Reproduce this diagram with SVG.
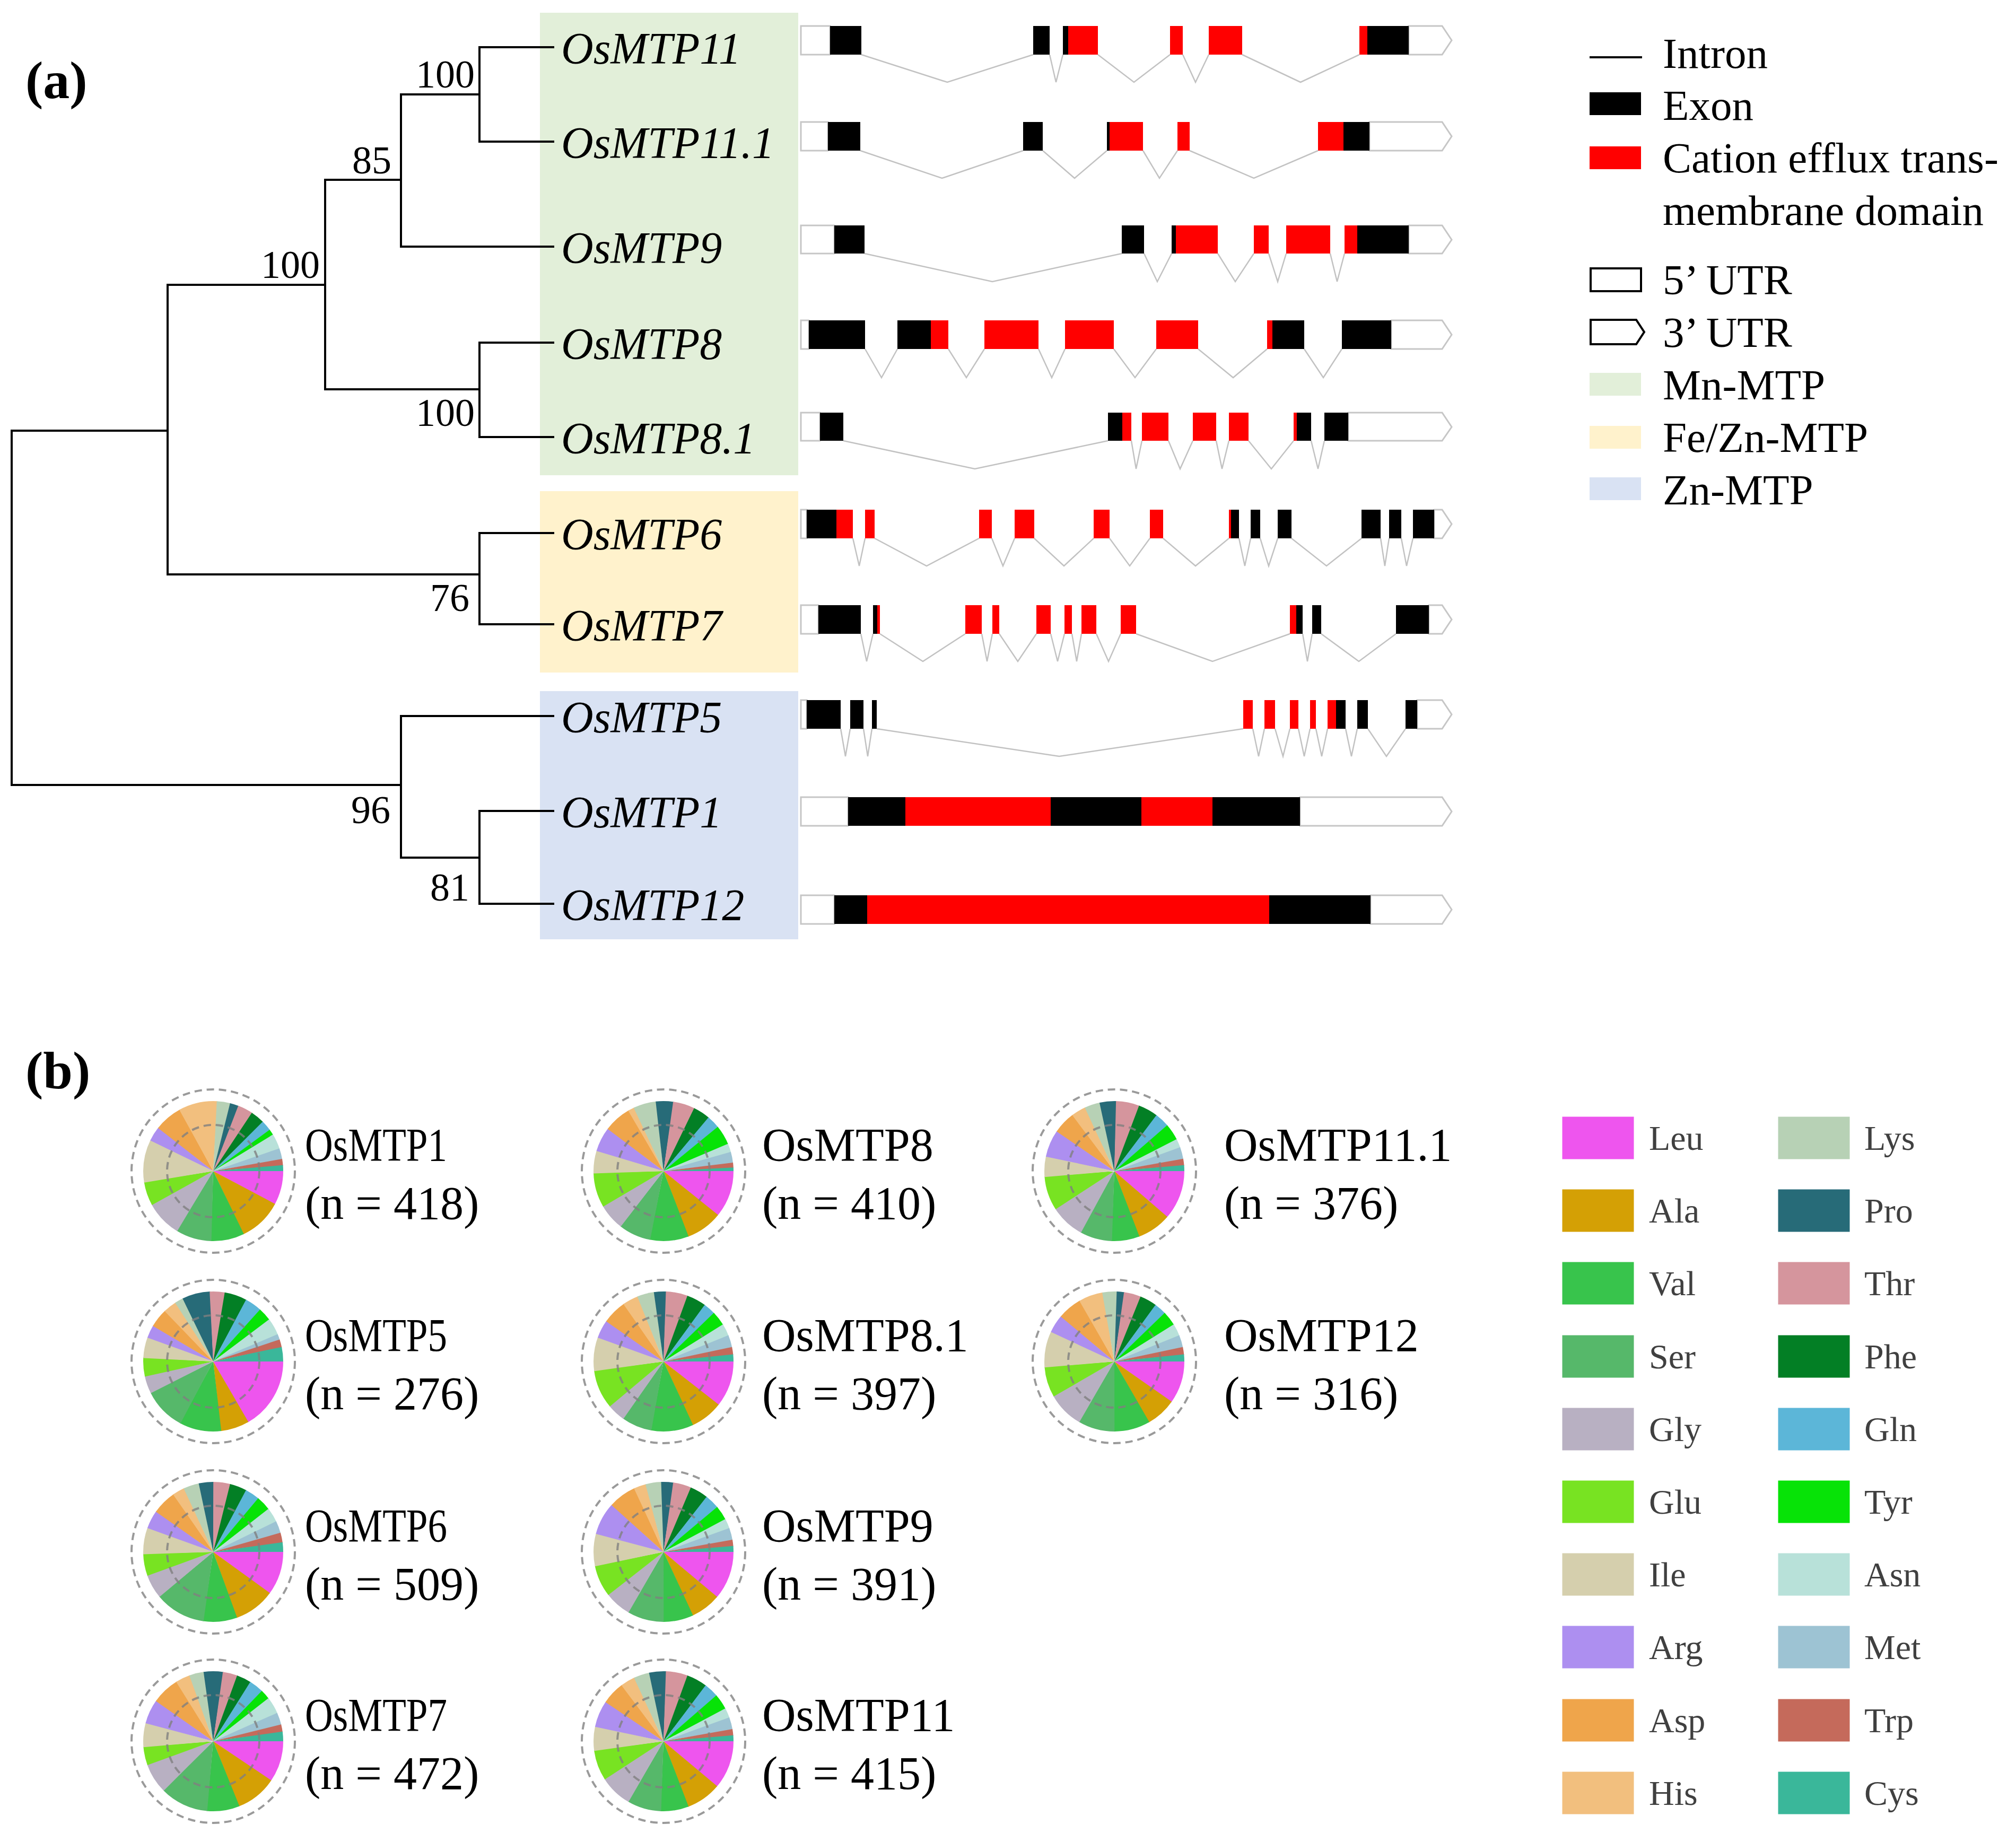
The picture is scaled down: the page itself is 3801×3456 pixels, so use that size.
<svg xmlns="http://www.w3.org/2000/svg" width="3801" height="3456" viewBox="0 0 3801 3456">
<style>
text{font-family:"Liberation Serif","Times New Roman",serif;fill:#000}
.br{stroke:#000;stroke-width:4;fill:none;stroke-linecap:square}
.leaf{font-style:italic;font-size:84px}
.bs{font-size:74px;text-anchor:end}
.lab{font-size:100px;font-weight:bold}
.utr{fill:#fff;stroke:#c6c6c6;stroke-width:3}
.ex{fill:#000}.cd{fill:#f00}
.in{fill:none;stroke:#c2c2c2;stroke-width:2.5}
.lg{font-size:81px}
.pl{font-size:88px}
.aa{font-size:66px;fill:#404040}
.s{fill:none;stroke-width:132}
.od{fill:none;stroke:#9a9a9a;stroke-width:4;stroke-dasharray:14 9}
.id{fill:none;stroke:#808080;stroke-opacity:0.8;stroke-width:4;stroke-dasharray:14 9}
.c1{stroke:#ee55ee;fill:#ee55ee}.c2{stroke:#d4a005;fill:#d4a005}.c3{stroke:#38c44c;fill:#38c44c}.c4{stroke:#56b86a;fill:#56b86a}
.c5{stroke:#b8b0c2;fill:#b8b0c2}.c6{stroke:#78e322;fill:#78e322}.c7{stroke:#d5cfad;fill:#d5cfad}.c8{stroke:#ad8ff0;fill:#ad8ff0}
.c9{stroke:#efa54b;fill:#efa54b}.c10{stroke:#f2bf7e;fill:#f2bf7e}.c11{stroke:#b7d1b5;fill:#b7d1b5}.c12{stroke:#276b78;fill:#276b78}
.c13{stroke:#d5959d;fill:#d5959d}.c14{stroke:#037f25;fill:#037f25}.c15{stroke:#5cb6d8;fill:#5cb6d8}.c16{stroke:#07e307;fill:#07e307}
.c17{stroke:#b8e1d9;fill:#b8e1d9}.c18{stroke:#9dc3d3;fill:#9dc3d3}.c19{stroke:#c56a5b;fill:#c56a5b}.c20{stroke:#3ab79a;fill:#3ab79a}
circle.s{fill:none}
</style>
<rect width="3801" height="3456" fill="#fff"/>
<text class="lab" x="48" y="185">(a)</text>
<text class="lab" x="48" y="2052">(b)</text>

<!-- group backgrounds -->
<g id="groups">
<rect x="1018" y="24" width="487" height="872" fill="#e2efd9"/>
<rect x="1018" y="926" width="487" height="342" fill="#fff2cc"/>
<rect x="1018" y="1303" width="487" height="468" fill="#d9e2f3"/>
</g>

<!-- tree connectors -->
<g id="tree" class="br">
<path d="M22,812V1480M22,812H316M22,1480H756"/>
<path d="M316,537V1083M316,537H613M316,1083H904"/>
<path d="M613,339V734M613,339H756M613,734H904"/>
<path d="M756,178V465M756,178H904M756,465H1043"/>
<path d="M904,89V267M904,89H1043M904,267H1043"/>
<path d="M904,646V824M904,646H1043M904,824H1043"/>
<path d="M904,1005V1177M904,1005H1043M904,1177H1043"/>
<path d="M756,1350V1617M756,1350H1043M756,1617H904"/>
<path d="M904,1529V1704M904,1529H1043M904,1704H1043"/>
</g>
<g id="bootstrap">
<text class="bs" x="895" y="165">100</text>
<text class="bs" x="738" y="327">85</text>
<text class="bs" x="603" y="524">100</text>
<text class="bs" x="895" y="803">100</text>
<text class="bs" x="885" y="1152">76</text>
<text class="bs" x="736" y="1552">96</text>
<text class="bs" x="885" y="1698">81</text>
</g>
<g id="leaves">
<text class="leaf" x="1058" y="120">OsMTP11</text>
<text class="leaf" x="1058" y="298">OsMTP11.1</text>
<text class="leaf" x="1058" y="496">OsMTP9</text>
<text class="leaf" x="1058" y="677">OsMTP8</text>
<text class="leaf" x="1058" y="855">OsMTP8.1</text>
<text class="leaf" x="1058" y="1036">OsMTP6</text>
<text class="leaf" x="1058" y="1208">OsMTP7</text>
<text class="leaf" x="1058" y="1381">OsMTP5</text>
<text class="leaf" x="1058" y="1560">OsMTP1</text>
<text class="leaf" x="1058" y="1735">OsMTP12</text>
</g>

<!-- gene structures -->
<g id="gene-OsMTP11">
<rect class="utr" x="1510" y="49" width="55" height="54"/>
<polygon class="utr" points="2656,49 2719,49 2737,76 2719,103 2656,103"/>
<path class="in" d="M1624,103L1786,155L1948,103M1979,103L1991,155L2004,103M2070,103L2138,155L2206,103M2230,103L2254,155L2279,103M2342,103L2452,155L2563,103"/>
<rect class="ex" x="1565" y="49" width="59" height="54"/><rect class="ex" x="1948" y="49" width="31" height="54"/><rect class="ex" x="2004" y="49" width="10" height="54"/><rect class="cd" x="2014" y="49" width="56" height="54"/><rect class="cd" x="2206" y="49" width="24" height="54"/><rect class="cd" x="2279" y="49" width="63" height="54"/><rect class="cd" x="2563" y="49" width="15" height="54"/><rect class="ex" x="2578" y="49" width="78" height="54"/>
</g>
<g id="gene-OsMTP11.1">
<rect class="utr" x="1510" y="230" width="51" height="54"/>
<polygon class="utr" points="2582,230 2719,230 2737,257 2719,284 2582,284"/>
<path class="in" d="M1622,284L1776,336L1929,284M1966,284L2026,336L2087,284M2155,284L2186,336L2220,284M2243,284L2364,336L2485,284"/>
<rect class="ex" x="1561" y="230" width="61" height="54"/><rect class="ex" x="1929" y="230" width="37" height="54"/><rect class="ex" x="2087" y="230" width="5" height="54"/><rect class="cd" x="2092" y="230" width="63" height="54"/><rect class="cd" x="2220" y="230" width="23" height="54"/><rect class="cd" x="2485" y="230" width="48" height="54"/><rect class="ex" x="2533" y="230" width="49" height="54"/>
</g>
<g id="gene-OsMTP9">
<rect class="utr" x="1510" y="425" width="63" height="53"/>
<polygon class="utr" points="2656,425 2719,425 2737,452 2719,478 2656,478"/>
<path class="in" d="M1630,478L1871,531L2115,478M2157,478L2182,531L2209,478M2296,478L2329,531L2364,478M2392,478L2409,531L2425,478M2508,478L2521,531L2535,478"/>
<rect class="ex" x="1573" y="425" width="57" height="53"/><rect class="ex" x="2115" y="425" width="42" height="53"/><rect class="ex" x="2209" y="425" width="8" height="53"/><rect class="cd" x="2217" y="425" width="79" height="53"/><rect class="cd" x="2364" y="425" width="28" height="53"/><rect class="cd" x="2425" y="425" width="83" height="53"/><rect class="cd" x="2535" y="425" width="24" height="53"/><rect class="ex" x="2559" y="425" width="97" height="53"/>
</g>
<g id="gene-OsMTP8">
<rect class="utr" x="1510" y="604" width="15" height="54"/>
<polygon class="utr" points="2623,604 2719,604 2737,631 2719,658 2623,658"/>
<path class="in" d="M1631,658L1662,712L1692,658M1788,658L1822,712L1856,658M1958,658L1983,712L2008,658M2100,658L2140,712L2180,658M2259,658L2325,712L2389,658M2459,658L2495,712L2530,658"/>
<rect class="ex" x="1525" y="604" width="106" height="54"/><rect class="ex" x="1692" y="604" width="63" height="54"/><rect class="cd" x="1755" y="604" width="33" height="54"/><rect class="cd" x="1856" y="604" width="102" height="54"/><rect class="cd" x="2008" y="604" width="92" height="54"/><rect class="cd" x="2180" y="604" width="79" height="54"/><rect class="cd" x="2389" y="604" width="10" height="54"/><rect class="ex" x="2399" y="604" width="60" height="54"/><rect class="ex" x="2530" y="604" width="93" height="54"/>
</g>
<g id="gene-OsMTP8.1">
<rect class="utr" x="1510" y="778" width="36" height="53"/>
<polygon class="utr" points="2542,778 2719,778 2737,805 2719,831 2542,831"/>
<path class="in" d="M1590,831L1838,884L2089,831M2133,831L2142,884L2153,831M2203,831L2225,884L2249,831M2293,831L2304,884L2317,831M2354,831L2397,884L2439,831M2472,831L2485,884L2497,831"/>
<rect class="ex" x="1546" y="778" width="44" height="53"/><rect class="ex" x="2089" y="778" width="27" height="53"/><rect class="cd" x="2116" y="778" width="17" height="53"/><rect class="cd" x="2153" y="778" width="50" height="53"/><rect class="cd" x="2249" y="778" width="44" height="53"/><rect class="cd" x="2317" y="778" width="37" height="53"/><rect class="cd" x="2439" y="778" width="6" height="53"/><rect class="ex" x="2445" y="778" width="27" height="53"/><rect class="ex" x="2497" y="778" width="45" height="53"/>
</g>
<g id="gene-OsMTP6">
<rect class="utr" x="1510" y="961" width="11" height="54"/>
<polygon class="utr" points="2704,961 2719,961 2737,988 2719,1015 2704,1015"/>
<path class="in" d="M1608,1015L1620,1067L1631,1015M1649,1015L1747,1067L1846,1015M1870,1015L1891,1067L1913,1015M1950,1015L2006,1067L2062,1015M2092,1015L2130,1067L2168,1015M2193,1015L2254,1067L2317,1015M2336,1015L2347,1067L2358,1015M2376,1015L2392,1067L2409,1015M2435,1015L2501,1067L2567,1015M2603,1015L2611,1067L2619,1015M2642,1015L2652,1067L2664,1015"/>
<rect class="ex" x="1521" y="961" width="56" height="54"/><rect class="cd" x="1577" y="961" width="31" height="54"/><rect class="cd" x="1631" y="961" width="18" height="54"/><rect class="cd" x="1846" y="961" width="24" height="54"/><rect class="cd" x="1913" y="961" width="37" height="54"/><rect class="cd" x="2062" y="961" width="30" height="54"/><rect class="cd" x="2168" y="961" width="25" height="54"/><rect class="cd" x="2317" y="961" width="4" height="54"/><rect class="ex" x="2321" y="961" width="15" height="54"/><rect class="ex" x="2358" y="961" width="18" height="54"/><rect class="ex" x="2409" y="961" width="26" height="54"/><rect class="ex" x="2567" y="961" width="36" height="54"/><rect class="ex" x="2619" y="961" width="23" height="54"/><rect class="ex" x="2664" y="961" width="40" height="54"/>
</g>
<g id="gene-OsMTP7">
<rect class="utr" x="1510" y="1141" width="33" height="54"/>
<polygon class="utr" points="2694,1141 2719,1141 2737,1168 2719,1195 2694,1195"/>
<path class="in" d="M1623,1195L1634,1247L1646,1195M1659,1195L1740,1247L1820,1195M1851,1195L1861,1247L1871,1195M1884,1195L1919,1247L1954,1195M1981,1195L1994,1247L2007,1195M2021,1195L2030,1247L2039,1195M2067,1195L2090,1247L2113,1195M2142,1195L2286,1247L2432,1195M2456,1195L2465,1247L2474,1195M2491,1195L2562,1247L2632,1195"/>
<rect class="ex" x="1543" y="1141" width="80" height="54"/><rect class="ex" x="1646" y="1141" width="8" height="54"/><rect class="cd" x="1654" y="1141" width="5" height="54"/><rect class="cd" x="1820" y="1141" width="31" height="54"/><rect class="cd" x="1871" y="1141" width="13" height="54"/><rect class="cd" x="1954" y="1141" width="27" height="54"/><rect class="cd" x="2007" y="1141" width="14" height="54"/><rect class="cd" x="2039" y="1141" width="28" height="54"/><rect class="cd" x="2113" y="1141" width="29" height="54"/><rect class="cd" x="2432" y="1141" width="12" height="54"/><rect class="ex" x="2444" y="1141" width="12" height="54"/><rect class="ex" x="2474" y="1141" width="17" height="54"/><rect class="ex" x="2632" y="1141" width="62" height="54"/>
</g>
<g id="gene-OsMTP5">
<rect class="utr" x="1510" y="1320" width="11" height="54"/>
<polygon class="utr" points="2672,1320 2719,1320 2737,1347 2719,1374 2672,1374"/>
<path class="in" d="M1585,1374L1594,1426L1603,1374M1628,1374L1636,1426L1644,1374M1653,1374L1997,1426L2344,1374M2362,1374L2373,1426L2384,1374M2404,1374L2419,1426L2432,1374M2448,1374L2459,1426L2470,1374M2481,1374L2492,1426L2503,1374M2537,1374L2548,1426L2559,1374M2579,1374L2614,1426L2650,1374"/>
<rect class="ex" x="1521" y="1320" width="64" height="54"/><rect class="ex" x="1603" y="1320" width="25" height="54"/><rect class="ex" x="1644" y="1320" width="9" height="54"/><rect class="cd" x="2344" y="1320" width="18" height="54"/><rect class="cd" x="2384" y="1320" width="20" height="54"/><rect class="cd" x="2432" y="1320" width="16" height="54"/><rect class="cd" x="2470" y="1320" width="11" height="54"/><rect class="cd" x="2503" y="1320" width="16" height="54"/><rect class="ex" x="2519" y="1320" width="18" height="54"/><rect class="ex" x="2559" y="1320" width="20" height="54"/><rect class="ex" x="2650" y="1320" width="22" height="54"/>
</g>
<g id="gene-OsMTP1">
<rect class="utr" x="1510" y="1503" width="89" height="54"/>
<polygon class="utr" points="2451,1503 2719,1503 2737,1530 2719,1557 2451,1557"/>
<rect class="ex" x="1599" y="1503" width="108" height="54"/><rect class="cd" x="1707" y="1503" width="274" height="54"/><rect class="ex" x="1981" y="1503" width="171" height="54"/><rect class="cd" x="2152" y="1503" width="134" height="54"/><rect class="ex" x="2286" y="1503" width="165" height="54"/>
</g>
<g id="gene-OsMTP12">
<rect class="utr" x="1510" y="1688" width="63" height="54"/>
<polygon class="utr" points="2584,1688 2719,1688 2737,1715 2719,1742 2584,1742"/>
<rect class="ex" x="1573" y="1688" width="62" height="54"/><rect class="cd" x="1635" y="1688" width="758" height="54"/><rect class="ex" x="2393" y="1688" width="191" height="54"/>
</g>

<!-- legend a -->
<g id="legend-a">
<line x1="2997" y1="108" x2="3096" y2="108" stroke="#000" stroke-width="4"/>
<rect x="2997" y="174" width="97" height="43" fill="#000"/>
<rect x="2997" y="276" width="97" height="43" fill="#f00"/>
<rect x="2999" y="506" width="95" height="43" fill="#fff" stroke="#000" stroke-width="4"/>
<path d="M2999,603H3085L3100,626L3085,649H2999Z" fill="#fff" stroke="#000" stroke-width="4"/>
<rect x="2997" y="703" width="97" height="43" fill="#e2efd9"/>
<rect x="2997" y="803" width="97" height="43" fill="#fff2cc"/>
<rect x="2997" y="900" width="97" height="43" fill="#d9e2f3"/>
<text class="lg" x="3135" y="128">Intron</text>
<text class="lg" x="3135" y="226">Exon</text>
<text class="lg" x="3135" y="325">Cation efflux trans-</text>
<text class="lg" x="3135" y="424">membrane domain</text>
<text class="lg" x="3135" y="555">5’ UTR</text>
<text class="lg" x="3135" y="654">3’ UTR</text>
<text class="lg" x="3135" y="753">Mn-MTP</text>
<text class="lg" x="3135" y="852">Fe/Zn-MTP</text>
<text class="lg" x="3135" y="951">Zn-MTP</text>
</g>

<!-- pies -->
<g id="pie-OsMTP1" transform="translate(402,2208)">
<circle class="s c1" r="66" pathLength="360" stroke-dasharray="28.5 400" stroke-dashoffset="0"/>
<circle class="s c2" r="66" pathLength="360" stroke-dasharray="36.5 400" stroke-dashoffset="-28"/>
<circle class="s c3" r="66" pathLength="360" stroke-dasharray="28 400" stroke-dashoffset="-64"/>
<circle class="s c4" r="66" pathLength="360" stroke-dasharray="30 400" stroke-dashoffset="-91.5"/>
<circle class="s c5" r="66" pathLength="360" stroke-dasharray="30.5 400" stroke-dashoffset="-121"/>
<circle class="s c6" r="66" pathLength="360" stroke-dasharray="20 400" stroke-dashoffset="-151"/>
<circle class="s c7" r="66" pathLength="360" stroke-dasharray="36 400" stroke-dashoffset="-170.5"/>
<circle class="s c8" r="66" pathLength="360" stroke-dasharray="12.5 400" stroke-dashoffset="-206"/>
<circle class="s c9" r="66" pathLength="360" stroke-dasharray="23.5 400" stroke-dashoffset="-218"/>
<circle class="s c10" r="66" pathLength="360" stroke-dasharray="32.5 400" stroke-dashoffset="-241"/>
<circle class="s c11" r="66" pathLength="360" stroke-dasharray="11.5 400" stroke-dashoffset="-273"/>
<circle class="s c12" r="66" pathLength="360" stroke-dasharray="7.5 400" stroke-dashoffset="-284"/>
<circle class="s c13" r="66" pathLength="360" stroke-dasharray="13 400" stroke-dashoffset="-291"/>
<circle class="s c14" r="66" pathLength="360" stroke-dasharray="12 400" stroke-dashoffset="-303.5"/>
<circle class="s c15" r="66" pathLength="360" stroke-dasharray="9.2 400" stroke-dashoffset="-315"/>
<circle class="s c16" r="66" pathLength="360" stroke-dasharray="5.3 400" stroke-dashoffset="-323.7"/>
<circle class="s c17" r="66" pathLength="360" stroke-dasharray="13 400" stroke-dashoffset="-328.5"/>
<circle class="s c18" r="66" pathLength="360" stroke-dasharray="9.5 400" stroke-dashoffset="-341"/>
<circle class="s c19" r="66" pathLength="360" stroke-dasharray="5.5 400" stroke-dashoffset="-350"/>
<circle class="s c20" r="66" pathLength="360" stroke-dasharray="5 400" stroke-dashoffset="-355"/>
<circle class="id" r="87"/><circle class="od" r="154"/>
<text class="pl" x="173" y="-20" textLength="268" lengthAdjust="spacingAndGlyphs">OsMTP1</text><text class="pl" x="173" y="90">(n = 418)</text>
</g>
<g id="pie-OsMTP5" transform="translate(402,2567)">
<circle class="s c1" r="66" pathLength="360" stroke-dasharray="60.3 400" stroke-dashoffset="0"/>
<circle class="s c2" r="66" pathLength="360" stroke-dasharray="24 400" stroke-dashoffset="-59.8"/>
<circle class="s c3" r="66" pathLength="360" stroke-dasharray="35.1 400" stroke-dashoffset="-83.3"/>
<circle class="s c4" r="66" pathLength="360" stroke-dasharray="35.6 400" stroke-dashoffset="-117.9"/>
<circle class="s c5" r="66" pathLength="360" stroke-dasharray="15 400" stroke-dashoffset="-153"/>
<circle class="s c6" r="66" pathLength="360" stroke-dasharray="15.9 400" stroke-dashoffset="-167.5"/>
<circle class="s c7" r="66" pathLength="360" stroke-dasharray="17.6 400" stroke-dashoffset="-182.9"/>
<circle class="s c8" r="66" pathLength="360" stroke-dasharray="11 400" stroke-dashoffset="-200"/>
<circle class="s c9" r="66" pathLength="360" stroke-dasharray="16 400" stroke-dashoffset="-210.5"/>
<circle class="s c10" r="66" pathLength="360" stroke-dasharray="11.5 400" stroke-dashoffset="-226"/>
<circle class="s c11" r="66" pathLength="360" stroke-dasharray="7.5 400" stroke-dashoffset="-237"/>
<circle class="s c12" r="66" pathLength="360" stroke-dasharray="23.5 400" stroke-dashoffset="-244"/>
<circle class="s c13" r="66" pathLength="360" stroke-dasharray="13 400" stroke-dashoffset="-267"/>
<circle class="s c14" r="66" pathLength="360" stroke-dasharray="19 400" stroke-dashoffset="-279.5"/>
<circle class="s c15" r="66" pathLength="360" stroke-dasharray="14.5 400" stroke-dashoffset="-298"/>
<circle class="s c16" r="66" pathLength="360" stroke-dasharray="11.5 400" stroke-dashoffset="-312"/>
<circle class="s c17" r="66" pathLength="360" stroke-dasharray="14.5 400" stroke-dashoffset="-323"/>
<circle class="s c18" r="66" pathLength="360" stroke-dasharray="5.1 400" stroke-dashoffset="-337"/>
<circle class="s c19" r="66" pathLength="360" stroke-dasharray="6.9 400" stroke-dashoffset="-341.6"/>
<circle class="s c20" r="66" pathLength="360" stroke-dasharray="12 400" stroke-dashoffset="-348"/>
<circle class="id" r="87"/><circle class="od" r="154"/>
<text class="pl" x="173" y="-20" textLength="268" lengthAdjust="spacingAndGlyphs">OsMTP5</text><text class="pl" x="173" y="90">(n = 276)</text>
</g>
<g id="pie-OsMTP6" transform="translate(402,2926)">
<circle class="s c1" r="66" pathLength="360" stroke-dasharray="36.5 400" stroke-dashoffset="0"/>
<circle class="s c2" r="66" pathLength="360" stroke-dasharray="34.5 400" stroke-dashoffset="-36"/>
<circle class="s c3" r="66" pathLength="360" stroke-dasharray="28.5 400" stroke-dashoffset="-70"/>
<circle class="s c4" r="66" pathLength="360" stroke-dasharray="42.5 400" stroke-dashoffset="-98"/>
<circle class="s c5" r="66" pathLength="360" stroke-dasharray="20.5 400" stroke-dashoffset="-140"/>
<circle class="s c6" r="66" pathLength="360" stroke-dasharray="18.5 400" stroke-dashoffset="-160"/>
<circle class="s c7" r="66" pathLength="360" stroke-dasharray="22.5 400" stroke-dashoffset="-178"/>
<circle class="s c8" r="66" pathLength="360" stroke-dasharray="15.5 400" stroke-dashoffset="-200"/>
<circle class="s c9" r="66" pathLength="360" stroke-dasharray="20.5 400" stroke-dashoffset="-215"/>
<circle class="s c10" r="66" pathLength="360" stroke-dasharray="10.5 400" stroke-dashoffset="-235"/>
<circle class="s c11" r="66" pathLength="360" stroke-dasharray="13.5 400" stroke-dashoffset="-245"/>
<circle class="s c12" r="66" pathLength="360" stroke-dasharray="12.5 400" stroke-dashoffset="-258"/>
<circle class="s c13" r="66" pathLength="360" stroke-dasharray="14.5 400" stroke-dashoffset="-270.1"/>
<circle class="s c14" r="66" pathLength="360" stroke-dasharray="14.5 400" stroke-dashoffset="-284"/>
<circle class="s c15" r="66" pathLength="360" stroke-dasharray="12.5 400" stroke-dashoffset="-298"/>
<circle class="s c16" r="66" pathLength="360" stroke-dasharray="12.5 400" stroke-dashoffset="-310"/>
<circle class="s c17" r="66" pathLength="360" stroke-dasharray="12.5 400" stroke-dashoffset="-322"/>
<circle class="s c18" r="66" pathLength="360" stroke-dasharray="10.5 400" stroke-dashoffset="-334"/>
<circle class="s c19" r="66" pathLength="360" stroke-dasharray="8.5 400" stroke-dashoffset="-344"/>
<circle class="s c20" r="66" pathLength="360" stroke-dasharray="8 400" stroke-dashoffset="-352"/>
<circle class="id" r="87"/><circle class="od" r="154"/>
<text class="pl" x="173" y="-20" textLength="268" lengthAdjust="spacingAndGlyphs">OsMTP6</text><text class="pl" x="173" y="90">(n = 509)</text>
</g>
<g id="pie-OsMTP7" transform="translate(402,3283)">
<circle class="s c1" r="66" pathLength="360" stroke-dasharray="34.5 400" stroke-dashoffset="0"/>
<circle class="s c2" r="66" pathLength="360" stroke-dasharray="34.5 400" stroke-dashoffset="-34"/>
<circle class="s c3" r="66" pathLength="360" stroke-dasharray="27.5 400" stroke-dashoffset="-68"/>
<circle class="s c4" r="66" pathLength="360" stroke-dasharray="40.5 400" stroke-dashoffset="-95"/>
<circle class="s c5" r="66" pathLength="360" stroke-dasharray="25.5 400" stroke-dashoffset="-135"/>
<circle class="s c6" r="66" pathLength="360" stroke-dasharray="15.5 400" stroke-dashoffset="-160"/>
<circle class="s c7" r="66" pathLength="360" stroke-dasharray="20.5 400" stroke-dashoffset="-175"/>
<circle class="s c8" r="66" pathLength="360" stroke-dasharray="20.5 400" stroke-dashoffset="-195"/>
<circle class="s c9" r="66" pathLength="360" stroke-dasharray="23.5 400" stroke-dashoffset="-215"/>
<circle class="s c10" r="66" pathLength="360" stroke-dasharray="12.5 400" stroke-dashoffset="-238"/>
<circle class="s c11" r="66" pathLength="360" stroke-dasharray="12.5 400" stroke-dashoffset="-250"/>
<circle class="s c12" r="66" pathLength="360" stroke-dasharray="16.5 400" stroke-dashoffset="-262"/>
<circle class="s c13" r="66" pathLength="360" stroke-dasharray="12.5 400" stroke-dashoffset="-278"/>
<circle class="s c14" r="66" pathLength="360" stroke-dasharray="12.5 400" stroke-dashoffset="-290"/>
<circle class="s c15" r="66" pathLength="360" stroke-dasharray="12.5 400" stroke-dashoffset="-302"/>
<circle class="s c16" r="66" pathLength="360" stroke-dasharray="8.5 400" stroke-dashoffset="-314"/>
<circle class="s c17" r="66" pathLength="360" stroke-dasharray="14.5 400" stroke-dashoffset="-322"/>
<circle class="s c18" r="66" pathLength="360" stroke-dasharray="10.5 400" stroke-dashoffset="-336"/>
<circle class="s c19" r="66" pathLength="360" stroke-dasharray="6.5 400" stroke-dashoffset="-346"/>
<circle class="s c20" r="66" pathLength="360" stroke-dasharray="8 400" stroke-dashoffset="-352"/>
<circle class="id" r="87"/><circle class="od" r="154"/>
<text class="pl" x="173" y="-20" textLength="268" lengthAdjust="spacingAndGlyphs">OsMTP7</text><text class="pl" x="173" y="90">(n = 472)</text>
</g>
<g id="pie-OsMTP8" transform="translate(1251,2208)">
<circle class="s c1" r="66" pathLength="360" stroke-dasharray="39.3 400" stroke-dashoffset="0"/>
<circle class="s c2" r="66" pathLength="360" stroke-dasharray="30.7 400" stroke-dashoffset="-38.8"/>
<circle class="s c3" r="66" pathLength="360" stroke-dasharray="32.5 400" stroke-dashoffset="-69"/>
<circle class="s c4" r="66" pathLength="360" stroke-dasharray="27.1 400" stroke-dashoffset="-101"/>
<circle class="s c5" r="66" pathLength="360" stroke-dasharray="22.4 400" stroke-dashoffset="-127.6"/>
<circle class="s c6" r="66" pathLength="360" stroke-dasharray="29 400" stroke-dashoffset="-149.5"/>
<circle class="s c7" r="66" pathLength="360" stroke-dasharray="19.3 400" stroke-dashoffset="-178"/>
<circle class="s c8" r="66" pathLength="360" stroke-dasharray="20.7 400" stroke-dashoffset="-196.8"/>
<circle class="s c9" r="66" pathLength="360" stroke-dasharray="23.1 400" stroke-dashoffset="-217"/>
<circle class="s c10" r="66" pathLength="360" stroke-dasharray="5.6 400" stroke-dashoffset="-239.6"/>
<circle class="s c11" r="66" pathLength="360" stroke-dasharray="19.3 400" stroke-dashoffset="-244.7"/>
<circle class="s c12" r="66" pathLength="360" stroke-dasharray="15 400" stroke-dashoffset="-263.5"/>
<circle class="s c13" r="66" pathLength="360" stroke-dasharray="18.5 400" stroke-dashoffset="-278"/>
<circle class="s c14" r="66" pathLength="360" stroke-dasharray="14.5 400" stroke-dashoffset="-296"/>
<circle class="s c15" r="66" pathLength="360" stroke-dasharray="11.3 400" stroke-dashoffset="-310"/>
<circle class="s c16" r="66" pathLength="360" stroke-dasharray="16.7 400" stroke-dashoffset="-320.8"/>
<circle class="s c17" r="66" pathLength="360" stroke-dasharray="7.5 400" stroke-dashoffset="-337"/>
<circle class="s c18" r="66" pathLength="360" stroke-dasharray="9.5 400" stroke-dashoffset="-344"/>
<circle class="s c19" r="66" pathLength="360" stroke-dasharray="4.5 400" stroke-dashoffset="-353"/>
<circle class="s c20" r="66" pathLength="360" stroke-dasharray="3 400" stroke-dashoffset="-357"/>
<circle class="id" r="87"/><circle class="od" r="154"/>
<text class="pl" x="186" y="-20">OsMTP8</text><text class="pl" x="186" y="90">(n = 410)</text>
</g>
<g id="pie-OsMTP8.1" transform="translate(1251,2567)">
<circle class="s c1" r="66" pathLength="360" stroke-dasharray="38.5 400" stroke-dashoffset="0"/>
<circle class="s c2" r="66" pathLength="360" stroke-dasharray="27.5 400" stroke-dashoffset="-38"/>
<circle class="s c3" r="66" pathLength="360" stroke-dasharray="35.5 400" stroke-dashoffset="-65"/>
<circle class="s c4" r="66" pathLength="360" stroke-dasharray="25.5 400" stroke-dashoffset="-100"/>
<circle class="s c5" r="66" pathLength="360" stroke-dasharray="15.5 400" stroke-dashoffset="-125"/>
<circle class="s c6" r="66" pathLength="360" stroke-dasharray="32.5 400" stroke-dashoffset="-140"/>
<circle class="s c7" r="66" pathLength="360" stroke-dasharray="28.5 400" stroke-dashoffset="-172"/>
<circle class="s c8" r="66" pathLength="360" stroke-dasharray="15.5 400" stroke-dashoffset="-200"/>
<circle class="s c9" r="66" pathLength="360" stroke-dasharray="20.5 400" stroke-dashoffset="-215"/>
<circle class="s c10" r="66" pathLength="360" stroke-dasharray="13.5 400" stroke-dashoffset="-235"/>
<circle class="s c11" r="66" pathLength="360" stroke-dasharray="14.5 400" stroke-dashoffset="-248"/>
<circle class="s c12" r="66" pathLength="360" stroke-dasharray="10.5 400" stroke-dashoffset="-262"/>
<circle class="s c13" r="66" pathLength="360" stroke-dasharray="18.5 400" stroke-dashoffset="-272"/>
<circle class="s c14" r="66" pathLength="360" stroke-dasharray="16.5 400" stroke-dashoffset="-290"/>
<circle class="s c15" r="66" pathLength="360" stroke-dasharray="10.5 400" stroke-dashoffset="-306"/>
<circle class="s c16" r="66" pathLength="360" stroke-dasharray="12.5 400" stroke-dashoffset="-316"/>
<circle class="s c17" r="66" pathLength="360" stroke-dasharray="10.5 400" stroke-dashoffset="-328"/>
<circle class="s c18" r="66" pathLength="360" stroke-dasharray="10.5 400" stroke-dashoffset="-338"/>
<circle class="s c19" r="66" pathLength="360" stroke-dasharray="6.5 400" stroke-dashoffset="-348"/>
<circle class="s c20" r="66" pathLength="360" stroke-dasharray="6 400" stroke-dashoffset="-354"/>
<circle class="id" r="87"/><circle class="od" r="154"/>
<text class="pl" x="186" y="-20">OsMTP8.1</text><text class="pl" x="186" y="90">(n = 397)</text>
</g>
<g id="pie-OsMTP9" transform="translate(1251,2926)">
<circle class="s c1" r="66" pathLength="360" stroke-dasharray="40.5 400" stroke-dashoffset="0"/>
<circle class="s c2" r="66" pathLength="360" stroke-dasharray="25.5 400" stroke-dashoffset="-40"/>
<circle class="s c3" r="66" pathLength="360" stroke-dasharray="25.5 400" stroke-dashoffset="-65"/>
<circle class="s c4" r="66" pathLength="360" stroke-dasharray="30.7 400" stroke-dashoffset="-89.8"/>
<circle class="s c5" r="66" pathLength="360" stroke-dasharray="22.5 400" stroke-dashoffset="-120"/>
<circle class="s c6" r="66" pathLength="360" stroke-dasharray="26.5 400" stroke-dashoffset="-142"/>
<circle class="s c7" r="66" pathLength="360" stroke-dasharray="27.5 400" stroke-dashoffset="-168"/>
<circle class="s c8" r="66" pathLength="360" stroke-dasharray="27.5 400" stroke-dashoffset="-195"/>
<circle class="s c9" r="66" pathLength="360" stroke-dasharray="23.5 400" stroke-dashoffset="-222"/>
<circle class="s c10" r="66" pathLength="360" stroke-dasharray="10.5 400" stroke-dashoffset="-245"/>
<circle class="s c11" r="66" pathLength="360" stroke-dasharray="13.5 400" stroke-dashoffset="-255"/>
<circle class="s c12" r="66" pathLength="360" stroke-dasharray="10.5 400" stroke-dashoffset="-268"/>
<circle class="s c13" r="66" pathLength="360" stroke-dasharray="15.5 400" stroke-dashoffset="-278"/>
<circle class="s c14" r="66" pathLength="360" stroke-dasharray="15.5 400" stroke-dashoffset="-293"/>
<circle class="s c15" r="66" pathLength="360" stroke-dasharray="12.5 400" stroke-dashoffset="-308"/>
<circle class="s c16" r="66" pathLength="360" stroke-dasharray="12.5 400" stroke-dashoffset="-320"/>
<circle class="s c17" r="66" pathLength="360" stroke-dasharray="8.5 400" stroke-dashoffset="-332"/>
<circle class="s c18" r="66" pathLength="360" stroke-dasharray="10.5 400" stroke-dashoffset="-340"/>
<circle class="s c19" r="66" pathLength="360" stroke-dasharray="5.5 400" stroke-dashoffset="-350"/>
<circle class="s c20" r="66" pathLength="360" stroke-dasharray="5 400" stroke-dashoffset="-355"/>
<circle class="id" r="87"/><circle class="od" r="154"/>
<text class="pl" x="186" y="-20">OsMTP9</text><text class="pl" x="186" y="90">(n = 391)</text>
</g>
<g id="pie-OsMTP11" transform="translate(1251,3283)">
<circle class="s c1" r="66" pathLength="360" stroke-dasharray="40.5 400" stroke-dashoffset="0"/>
<circle class="s c2" r="66" pathLength="360" stroke-dasharray="29.5 400" stroke-dashoffset="-40"/>
<circle class="s c3" r="66" pathLength="360" stroke-dasharray="23.5 400" stroke-dashoffset="-69"/>
<circle class="s c4" r="66" pathLength="360" stroke-dasharray="28.5 400" stroke-dashoffset="-92"/>
<circle class="s c5" r="66" pathLength="360" stroke-dasharray="27.5 400" stroke-dashoffset="-120"/>
<circle class="s c6" r="66" pathLength="360" stroke-dasharray="25.5 400" stroke-dashoffset="-147"/>
<circle class="s c7" r="66" pathLength="360" stroke-dasharray="20.5 400" stroke-dashoffset="-172"/>
<circle class="s c8" r="66" pathLength="360" stroke-dasharray="22.5 400" stroke-dashoffset="-192"/>
<circle class="s c9" r="66" pathLength="360" stroke-dasharray="19.5 400" stroke-dashoffset="-214"/>
<circle class="s c10" r="66" pathLength="360" stroke-dasharray="12.5 400" stroke-dashoffset="-233"/>
<circle class="s c11" r="66" pathLength="360" stroke-dasharray="13.5 400" stroke-dashoffset="-245"/>
<circle class="s c12" r="66" pathLength="360" stroke-dasharray="14.5 400" stroke-dashoffset="-258"/>
<circle class="s c13" r="66" pathLength="360" stroke-dasharray="18.5 400" stroke-dashoffset="-272"/>
<circle class="s c14" r="66" pathLength="360" stroke-dasharray="17.5 400" stroke-dashoffset="-290"/>
<circle class="s c15" r="66" pathLength="360" stroke-dasharray="12.5 400" stroke-dashoffset="-307"/>
<circle class="s c16" r="66" pathLength="360" stroke-dasharray="13.5 400" stroke-dashoffset="-319"/>
<circle class="s c17" r="66" pathLength="360" stroke-dasharray="8.5 400" stroke-dashoffset="-332"/>
<circle class="s c18" r="66" pathLength="360" stroke-dasharray="10.5 400" stroke-dashoffset="-340"/>
<circle class="s c19" r="66" pathLength="360" stroke-dasharray="5.5 400" stroke-dashoffset="-350"/>
<circle class="s c20" r="66" pathLength="360" stroke-dasharray="5 400" stroke-dashoffset="-355"/>
<circle class="id" r="87"/><circle class="od" r="154"/>
<text class="pl" x="186" y="-20">OsMTP11</text><text class="pl" x="186" y="90">(n = 415)</text>
</g>
<g id="pie-OsMTP11.1" transform="translate(2101,2208)">
<circle class="s c1" r="66" pathLength="360" stroke-dasharray="41.3 400" stroke-dashoffset="0"/>
<circle class="s c2" r="66" pathLength="360" stroke-dasharray="28.7 400" stroke-dashoffset="-40.8"/>
<circle class="s c3" r="66" pathLength="360" stroke-dasharray="23.5 400" stroke-dashoffset="-69"/>
<circle class="s c4" r="66" pathLength="360" stroke-dasharray="27 400" stroke-dashoffset="-92"/>
<circle class="s c5" r="66" pathLength="360" stroke-dasharray="29 400" stroke-dashoffset="-118.5"/>
<circle class="s c6" r="66" pathLength="360" stroke-dasharray="28.5 400" stroke-dashoffset="-147"/>
<circle class="s c7" r="66" pathLength="360" stroke-dasharray="17.5 400" stroke-dashoffset="-175"/>
<circle class="s c8" r="66" pathLength="360" stroke-dasharray="23 400" stroke-dashoffset="-192"/>
<circle class="s c9" r="66" pathLength="360" stroke-dasharray="19 400" stroke-dashoffset="-214.5"/>
<circle class="s c10" r="66" pathLength="360" stroke-dasharray="12.5 400" stroke-dashoffset="-233"/>
<circle class="s c11" r="66" pathLength="360" stroke-dasharray="13.2 400" stroke-dashoffset="-245"/>
<circle class="s c12" r="66" pathLength="360" stroke-dasharray="14.2 400" stroke-dashoffset="-257.7"/>
<circle class="s c13" r="66" pathLength="360" stroke-dasharray="19.8 400" stroke-dashoffset="-271.4"/>
<circle class="s c14" r="66" pathLength="360" stroke-dasharray="16.8 400" stroke-dashoffset="-290.7"/>
<circle class="s c15" r="66" pathLength="360" stroke-dasharray="12.5 400" stroke-dashoffset="-307"/>
<circle class="s c16" r="66" pathLength="360" stroke-dasharray="14.3 400" stroke-dashoffset="-319"/>
<circle class="s c17" r="66" pathLength="360" stroke-dasharray="7.7 400" stroke-dashoffset="-332.8"/>
<circle class="s c18" r="66" pathLength="360" stroke-dasharray="10.3 400" stroke-dashoffset="-340"/>
<circle class="s c19" r="66" pathLength="360" stroke-dasharray="5.7 400" stroke-dashoffset="-349.8"/>
<circle class="s c20" r="66" pathLength="360" stroke-dasharray="5 400" stroke-dashoffset="-355"/>
<circle class="id" r="87"/><circle class="od" r="154"/>
<text class="pl" x="207" y="-20">OsMTP11.1</text><text class="pl" x="207" y="90">(n = 376)</text>
</g>
<g id="pie-OsMTP12" transform="translate(2101,2567)">
<circle class="s c1" r="66" pathLength="360" stroke-dasharray="35.5 400" stroke-dashoffset="0"/>
<circle class="s c2" r="66" pathLength="360" stroke-dasharray="25.5 400" stroke-dashoffset="-35"/>
<circle class="s c3" r="66" pathLength="360" stroke-dasharray="30.5 400" stroke-dashoffset="-60"/>
<circle class="s c4" r="66" pathLength="360" stroke-dasharray="30.7 400" stroke-dashoffset="-89.8"/>
<circle class="s c5" r="66" pathLength="360" stroke-dasharray="30.5 400" stroke-dashoffset="-120"/>
<circle class="s c6" r="66" pathLength="360" stroke-dasharray="25.5 400" stroke-dashoffset="-150"/>
<circle class="s c7" r="66" pathLength="360" stroke-dasharray="30.5 400" stroke-dashoffset="-175"/>
<circle class="s c8" r="66" pathLength="360" stroke-dasharray="15.5 400" stroke-dashoffset="-205"/>
<circle class="s c9" r="66" pathLength="360" stroke-dasharray="20.5 400" stroke-dashoffset="-220"/>
<circle class="s c10" r="66" pathLength="360" stroke-dasharray="20.5 400" stroke-dashoffset="-240"/>
<circle class="s c11" r="66" pathLength="360" stroke-dasharray="12.5 400" stroke-dashoffset="-260"/>
<circle class="s c12" r="66" pathLength="360" stroke-dasharray="6.5 400" stroke-dashoffset="-272"/>
<circle class="s c13" r="66" pathLength="360" stroke-dasharray="14.5 400" stroke-dashoffset="-278"/>
<circle class="s c14" r="66" pathLength="360" stroke-dasharray="14.5 400" stroke-dashoffset="-292"/>
<circle class="s c15" r="66" pathLength="360" stroke-dasharray="10.5 400" stroke-dashoffset="-306"/>
<circle class="s c16" r="66" pathLength="360" stroke-dasharray="12.5 400" stroke-dashoffset="-316"/>
<circle class="s c17" r="66" pathLength="360" stroke-dasharray="10.5 400" stroke-dashoffset="-328"/>
<circle class="s c18" r="66" pathLength="360" stroke-dasharray="10.5 400" stroke-dashoffset="-338"/>
<circle class="s c19" r="66" pathLength="360" stroke-dasharray="6.5 400" stroke-dashoffset="-348"/>
<circle class="s c20" r="66" pathLength="360" stroke-dasharray="6 400" stroke-dashoffset="-354"/>
<circle class="id" r="87"/><circle class="od" r="154"/>
<text class="pl" x="207" y="-20">OsMTP12</text><text class="pl" x="207" y="90">(n = 316)</text>
</g>

<!-- legend b -->
<g id="legend-b">
<rect class="c1" x="2946" y="2106" width="134" height="79"/><text class="aa" x="3109" y="2168">Leu</text>
<rect class="c2" x="2946" y="2243" width="134" height="79"/><text class="aa" x="3109" y="2305">Ala</text>
<rect class="c3" x="2946" y="2380" width="134" height="79"/><text class="aa" x="3109" y="2442">Val</text>
<rect class="c4" x="2946" y="2518" width="134" height="79"/><text class="aa" x="3109" y="2580">Ser</text>
<rect class="c5" x="2946" y="2655" width="134" height="79"/><text class="aa" x="3109" y="2717">Gly</text>
<rect class="c6" x="2946" y="2792" width="134" height="79"/><text class="aa" x="3109" y="2854">Glu</text>
<rect class="c7" x="2946" y="2929" width="134" height="79"/><text class="aa" x="3109" y="2991">Ile</text>
<rect class="c8" x="2946" y="3066" width="134" height="79"/><text class="aa" x="3109" y="3128">Arg</text>
<rect class="c9" x="2946" y="3204" width="134" height="79"/><text class="aa" x="3109" y="3266">Asp</text>
<rect class="c10" x="2946" y="3341" width="134" height="79"/><text class="aa" x="3109" y="3403">His</text>
<rect class="c11" x="3353" y="2106" width="134" height="79"/><text class="aa" x="3515" y="2168">Lys</text>
<rect class="c12" x="3353" y="2243" width="134" height="79"/><text class="aa" x="3515" y="2305">Pro</text>
<rect class="c13" x="3353" y="2380" width="134" height="79"/><text class="aa" x="3515" y="2442">Thr</text>
<rect class="c14" x="3353" y="2518" width="134" height="79"/><text class="aa" x="3515" y="2580">Phe</text>
<rect class="c15" x="3353" y="2655" width="134" height="79"/><text class="aa" x="3515" y="2717">Gln</text>
<rect class="c16" x="3353" y="2792" width="134" height="79"/><text class="aa" x="3515" y="2854">Tyr</text>
<rect class="c17" x="3353" y="2929" width="134" height="79"/><text class="aa" x="3515" y="2991">Asn</text>
<rect class="c18" x="3353" y="3066" width="134" height="79"/><text class="aa" x="3515" y="3128">Met</text>
<rect class="c19" x="3353" y="3204" width="134" height="79"/><text class="aa" x="3515" y="3266">Trp</text>
<rect class="c20" x="3353" y="3341" width="134" height="79"/><text class="aa" x="3515" y="3403">Cys</text>
</g>
</svg>
